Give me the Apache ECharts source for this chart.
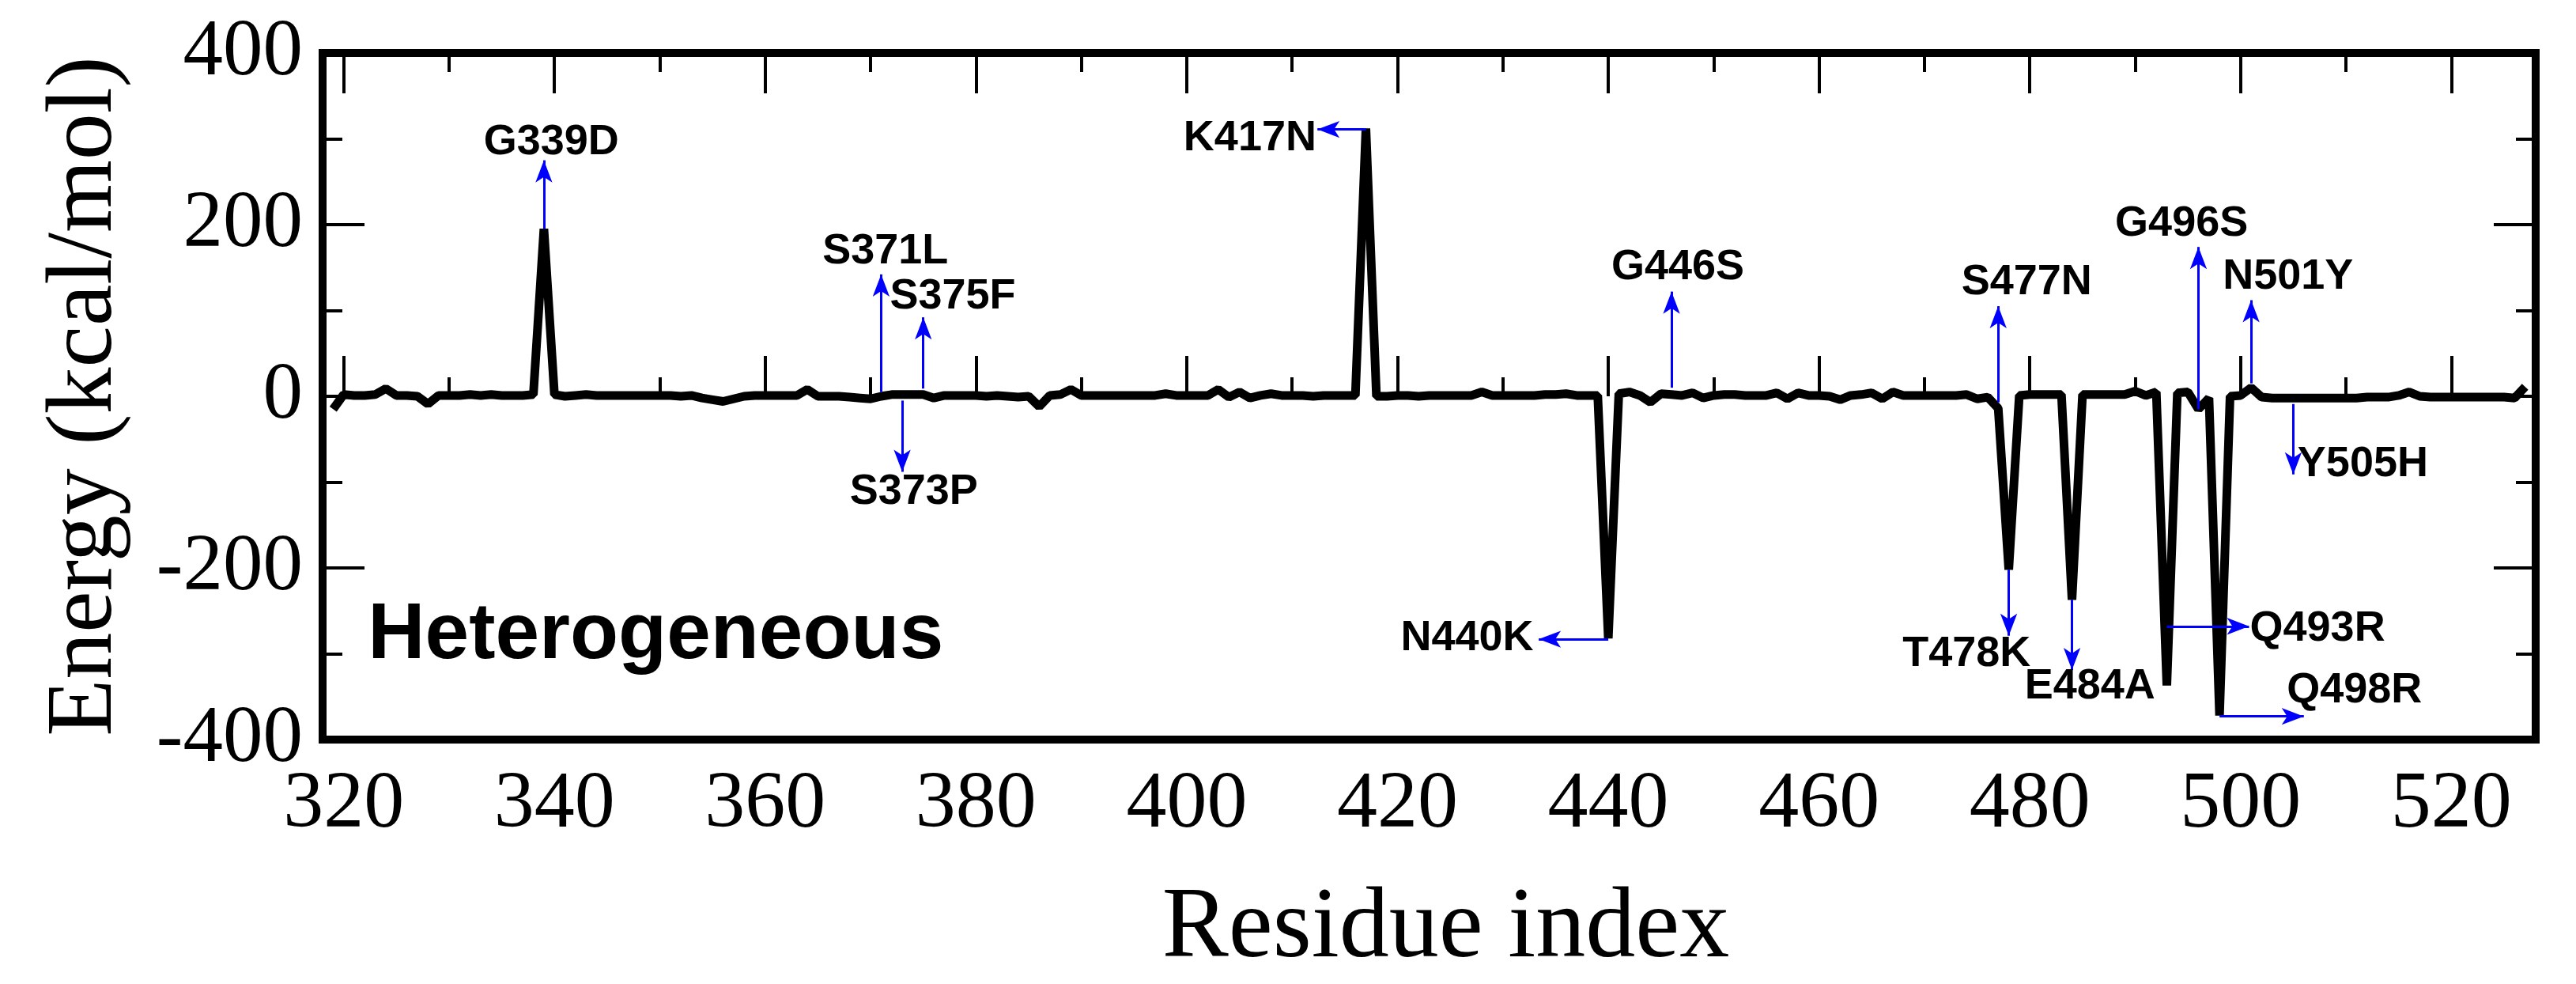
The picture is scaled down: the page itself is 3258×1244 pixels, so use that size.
<!DOCTYPE html>
<html><head><meta charset="utf-8">
<script src="https://cdn.jsdelivr.net/npm/echarts@6/dist/echarts.min.js"></script>
<style>html,body{margin:0;padding:0;background:#fff}#c{width:3258px;height:1244px}</style>
</head><body><div id="c"></div>
<script>
// ---- data ----
const residueStart = 319;
const energy = [
  -15, 2, 1, 1, 2, 9, 1, 1, 0, -9,          // 319-328
  1, 1, 1, 2, 1, 2, 1, 1, 1, 2,             // 329-338
  195, 2, 0, 1, 2, 1, 1, 1, 1, 1,           // 339-348
  1, 1, 1, 0, 1, -2, -4, -6, -3, 0,         // 349-358
  1, 1, 1, 1, 1, 8, 0, 0, 0, -1,            // 359-368
  -2, -3, 0, 2, 2, 2, 2, -2, 1, 1,          // 369-378
  1, 1, 0, 1, 0, -1, 0, -12, 1, 2,          // 379-388
  8, 1, 1, 1, 1, 1, 1, 1, 1, 3,             // 389-398
  1, 1, 1, 1, 8, -1, 5, -2, 1, 3,           // 399-408
  1, 1, 1, 0, 1, 1, 1, 1, 312, 0,           // 409-418
  0, 1, 1, 0, 1, 1, 1, 1, 1, 5,             // 419-428
  1, 1, 1, 1, 1, 2, 2, 3, 1, 1,             // 429-438
  1, -282, 3, 5, 1, -7, 3, 2, 1, 4,         // 439-448
  -2, 1, 2, 2, 1, 1, 1, 4, -3, 4,           // 449-458
  1, 1, 0, -4, 1, 2, 4, -3, 5, 1,           // 459-468
  1, 1, 1, 1, 1, 2, -3, -1, -14, -202,      // 469-478
  1, 2, 2, 2, 2, -237, 2, 2, 2, 2,          // 479-488
  2, 6, 1, 5, -337, 4, 5, -15, -2, -372,    // 489-498
  0, 1, 10, -1, -2, -2, -2, -2, -2, -2,     // 499-508
  -2, -2, -2, -1, -1, -1, 1, 5, 0, -1,      // 509-518
  -1, -1, -1, -1, -1, -1, -1, -2, 11        // 519-527
];
const xMajorTicks = [320, 340, 360, 380, 400, 420, 440, 460, 480, 500, 520];
const xMinorTicks = [330, 350, 370, 390, 410, 430, 450, 470, 490, 510];
const panelLabel = 'Heterogeneous';
const panelLabelAt = [322.3, -280];

const mutationNames = ['G339D','S371L','S375F','S373P','K417N','N440K','G446S','S477N','T478K','E484A','G496S','N501Y','Y505H','Q493R','Q498R'];
const mutationLabelAt = [
  [339.7, 296], [371.4, 169], [377.8, 116], [374.1, -112], [406.0, 300],
  [426.6, -282], [446.6, 150], [479.7, 133], [474.0, -301], [485.7, -338],
  [494.4, 201], [504.5, 139], [511.6, -79], [507.3, -271], [510.8, -343]
];
const arrowFrom = [
  [339, 195], [371, 5], [375, 9], [373, -5], [417, 311],
  [440, -283], [446, 10], [477, -7], [478, -202], [484, -237],
  [496, -15], [501, 15], [505, -9], [493, -268], [498, -373]
];
const arrowTo = [
  [339, 275], [371, 142], [375, 92], [373, -88], [412.4, 311],
  [433.4, -283], [446, 122], [477, 105], [478, -279], [484, -319],
  [496, 174], [501, 112], [505, -91], [500.8, -268], [506, -373]
];

// ---- chart ----
const lineData = energy.map((v, i) => [residueStart + i, v]);
const SERIF = 'Liberation Serif';
const SANS = 'Liberation Sans';
const tickStyle = { color: '#000', width: 4 };

function xAxisDef(pos, ticks, len, withLabel) {
  const a = {
    type: 'value', min: 318, max: 528, position: pos, gridIndex: 0,
    axisLine: { show: false },
    splitLine: { show: false },
    axisTick: { show: true, inside: true, length: len, customValues: ticks, lineStyle: tickStyle },
    axisLabel: { show: false }
  };
  if (withLabel) {
    a.axisLabel = { show: true, customValues: xMajorTicks, fontSize: 102, fontFamily: SERIF, color: '#000', margin: 32 };
    a.name = 'Residue index';
    a.nameLocation = 'middle';
    a.nameGap = 178;
    a.nameTextStyle = { fontSize: 126, fontFamily: SERIF, color: '#000', padding: [0, 0, 0, 42] };
  }
  return a;
}
function yAxisDef(pos, withLabel) {
  const a = {
    type: 'value', min: -400, max: 400, interval: 200, position: pos, gridIndex: 0,
    axisLine: { show: false },
    splitLine: { show: false },
    minorSplitLine: { show: false },
    axisTick: { show: true, inside: true, length: 53, lineStyle: tickStyle },
    minorTick: { show: true, splitNumber: 2, length: 25, lineStyle: tickStyle },
    axisLabel: { show: false }
  };
  if (withLabel) {
    a.axisLabel = { show: true, fontSize: 101, fontFamily: SERIF, color: '#000', margin: 25 };
    a.name = 'Energy (kcal/mol)';
    a.nameLocation = 'middle';
    a.nameGap = 240;
    a.nameTextStyle = { fontSize: 118, fontFamily: SERIF, color: '#000' };
  }
  return a;
}

const chart = echarts.init(document.getElementById('c'), null, { renderer: 'canvas' });
chart.setOption({
  animation: false,
  backgroundColor: '#fff',
  grid: { left: 408, right: 51, top: 67, bottom: 291, show: true, borderWidth: 10, borderColor: '#000', backgroundColor: 'transparent' },
  xAxis: [
    xAxisDef('bottom', xMajorTicks, 51, true),
    xAxisDef('bottom', xMinorTicks, 24, false),
    xAxisDef('top', xMajorTicks, 51, false),
    xAxisDef('top', xMinorTicks, 24, false)
  ],
  yAxis: [yAxisDef('left', true), yAxisDef('right', false)],
  series: [
    {
      type: 'line', xAxisIndex: 0, yAxisIndex: 0, data: lineData,
      showSymbol: false, symbol: 'none', clip: true, z: 3,
      lineStyle: { color: '#000', width: 11, join: 'bevel' },
      markLine: {
        silent: true, symbol: ['none', 'arrow'], symbolSize: [16, 28],
        lineStyle: { color: '#0000ff', width: 3, type: 'solid', opacity: 1 },
        itemStyle: { color: '#0000ff', opacity: 1 },
        label: { show: false },
        data: arrowFrom.map((f, i) => [{ coord: f }, { coord: arrowTo[i] }])
      }
    },
    {
      type: 'scatter', xAxisIndex: 0, yAxisIndex: 0, symbolSize: 0, z: 5, silent: true,
      itemStyle: { opacity: 1, color: '#000' },
      data: mutationNames.map((n, i) => ({ name: n, value: mutationLabelAt[i] })),
      label: { show: true, position: 'inside', formatter: '{b}', fontSize: 54, fontWeight: 'bold', fontFamily: SANS, color: '#000', opacity: 1 }
    },
    {
      type: 'scatter', xAxisIndex: 0, yAxisIndex: 0, symbolSize: 0, z: 5, silent: true,
      itemStyle: { opacity: 1, color: '#000' },
      data: [{ name: panelLabel, value: panelLabelAt }],
      label: { show: true, position: 'right', distance: 0, formatter: '{b}', fontSize: 100, fontWeight: 'bold', fontFamily: SANS, color: '#000', opacity: 1 }
    }
  ]
});
</script></body></html>
